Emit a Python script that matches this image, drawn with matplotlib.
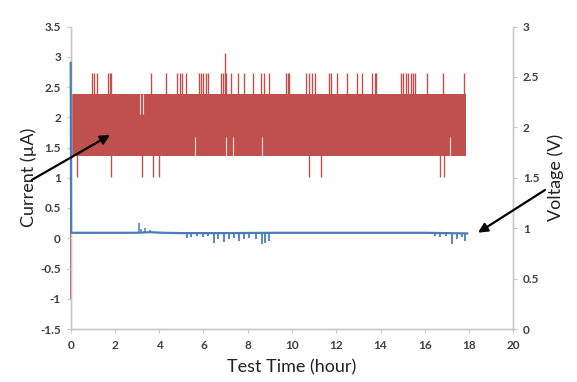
import matplotlib
matplotlib.use("Agg")
import matplotlib.pyplot as plt

plt.rcParams['font.family'] = ['Lato', 'DejaVu Sans']

# ---------------- data ----------------
# Current (uA) baseline trace
current_t = [0.0, 0.02, 0.3, 2.9, 3.6, 4.2, 5.0, 7.0, 9.2, 12.0, 16.0, 17.92]
current_v = [2.9, 0.09, 0.09, 0.09, 0.10, 0.09, 0.085, 0.085, 0.09, 0.09, 0.09, 0.08]
# Current bumps (upwards) and dips (downwards)
bump_t = [3.09, 3.16, 3.36, 3.58]
bump_v = [0.25, 0.16, 0.17, 0.14]
dip_t = [5.24, 5.42, 5.69, 5.99, 6.22, 6.48, 6.67, 6.93, 7.17, 7.38, 7.62, 7.83,
         8.07, 8.37, 8.63, 8.78, 8.97,
         16.46, 16.69, 16.96, 17.22, 17.44, 17.67, 17.82]
dip_v = [0.0, 0.02, 0.04, 0.02, 0.03, -0.08, -0.01, -0.06, -0.02, 0.0, -0.05, -0.01,
         0.0, -0.02, -0.10, -0.08, -0.05,
         0.03, 0.02, 0.04, -0.09, -0.01, 0.02, -0.05]

# Voltage (V): dense toggling band
band_t = [0.05, 17.86]
band_low = 1.72
band_high = 2.33
volt_start_t = 0.02
volt_start_lo = 0.29
volt_start_hi = 2.54
# upward voltage spikes
up_t = [0.97, 1.06, 1.17, 1.69, 1.77, 1.84, 3.61, 4.29, 4.80, 4.95, 5.04, 5.19,
        5.79, 5.90, 6.00, 6.12, 6.20, 6.80, 6.87, 6.98, 7.02, 7.25, 7.55, 7.85,
        8.22, 8.60, 8.75, 8.97, 9.72, 9.80, 9.87, 10.62, 10.78, 10.90, 11.05,
        11.65, 11.75, 12.05, 12.50, 12.95, 13.18, 13.63, 13.75, 13.81, 14.91,
        15.01, 15.13, 15.25, 15.36, 15.46, 15.58, 16.11, 16.81, 17.76]
up_v = [2.54] * 19 + [2.74] + [2.54] * 34
# downward voltage spikes
down_t = [0.27, 1.80, 3.24, 3.72, 3.99, 10.75, 11.30, 16.71, 16.86]
down_v = [1.51] * 9
# gaps in band (where signal stayed at one level)
gap_upper_t = [3.14, 3.25]
gap_upper_v = 2.13
gap_lower_t = [5.62, 7.00, 7.35, 8.63, 17.15]
gap_lower_v = 1.90

x_ticks = [0, 2, 4, 6, 8, 10, 12, 14, 16, 18, 20]
cur_ticks = [-1.5, -1, -0.5, 0, 0.5, 1, 1.5, 2, 2.5, 3, 3.5]
volt_ticks = [0, 0.5, 1, 1.5, 2, 2.5, 3]

BLUE = '#4a7ebb'
RED = '#c0504d'
SPINE = '#c8c8c8'
TXT = '#404040'

# ---------------- figure ----------------
fig = plt.figure(figsize=(5.77, 3.82), dpi=100)
fig.patch.set_facecolor('white')
W, H = 577, 382
left, right, top, bottom = 70.7, 513.3, 26.5, 329
ax = fig.add_axes([left / W, 1 - bottom / H, (right - left) / W, (bottom - top) / H])
ax2 = ax.twinx()

# voltage on secondary axis
ax2.fill_between(band_t, band_low, band_high, color=RED, linewidth=0)
ax2.vlines(up_t, band_high - 0.01, up_v, color=RED, linewidth=1.0)
ax2.vlines(down_t, down_v, band_low + 0.01, color=RED, linewidth=1.0)
ax2.vlines([volt_start_t], volt_start_lo, volt_start_hi, color=RED, linewidth=1.3,
           zorder=3, clip_on=False)
ax2.vlines(gap_upper_t, gap_upper_v, band_high, color='white', linewidth=0.8, alpha=0.8)
ax2.vlines(gap_lower_t, band_low, gap_lower_v, color='white', linewidth=0.8, alpha=0.8)

# current on primary axis (drawn on top)
ax.plot(current_t, current_v, color=BLUE, linewidth=1.6, solid_joinstyle='round',
        zorder=3, clip_on=False)
ax.vlines(bump_t, 0.09, bump_v, color=BLUE, linewidth=1.1, zorder=3)
ax.vlines(dip_t, 0.09, dip_v, color=BLUE, linewidth=1.3, zorder=3)

ax.set_zorder(ax2.get_zorder() + 1)
ax.patch.set_visible(False)
ax2.patch.set_visible(False)

ax.set_xlim(0, 20)
ax.set_ylim(-1.5, 3.5)
ax2.set_ylim(0, 3)
ax.set_xticks(x_ticks)
ax.set_xticklabels([str(v) for v in x_ticks])
ax.set_yticks(cur_ticks)
ax.set_yticklabels([f'{v:g}' for v in cur_ticks])
ax2.set_yticks(volt_ticks)
ax2.set_yticklabels([f'{v:g}' for v in volt_ticks])

for a in (ax, ax2):
    a.spines['top'].set_visible(False)
    for s in ('left', 'right', 'bottom'):
        a.spines[s].set_color(SPINE)
        a.spines[s].set_linewidth(1.0)
        a.spines[s].set_zorder(1)
    a.tick_params(axis='both', colors=SPINE, labelcolor=TXT, labelsize=8.5,
                  length=3, width=0.8, direction='out')
    for lab in a.get_xticklabels() + a.get_yticklabels():
        lab.set_fontweight('bold')

ax.tick_params(axis='y', pad=4)
ax2.tick_params(axis='y', pad=4)
ax.tick_params(axis='x', pad=5)

ax.set_ylabel('Current (µA)', fontsize=13, color='#222222', labelpad=2)
ax2.set_ylabel('Voltage (V)', fontsize=13, color='#222222', labelpad=6, rotation=90)
ax.set_xlabel('Test Time (hour)', fontsize=13, color='#222222', labelpad=6)

# arrows (figure pixel positions)
ax.annotate('', xy=(110 / W, 1 - 135 / H), xytext=(31.7 / W, 1 - 180 / H),
            xycoords='figure fraction', textcoords='figure fraction',
            arrowprops=dict(arrowstyle='-|>', color='black', lw=1.6,
                            mutation_scale=14, shrinkA=0, shrinkB=0))
ax.annotate('', xy=(478 / W, 1 - 232.7 / H), xytext=(545 / W, 1 - 190 / H),
            xycoords='figure fraction', textcoords='figure fraction',
            arrowprops=dict(arrowstyle='-|>', color='black', lw=1.6,
                            mutation_scale=14, shrinkA=0, shrinkB=0))

fig.savefig('out.png', dpi=100, facecolor='white')
